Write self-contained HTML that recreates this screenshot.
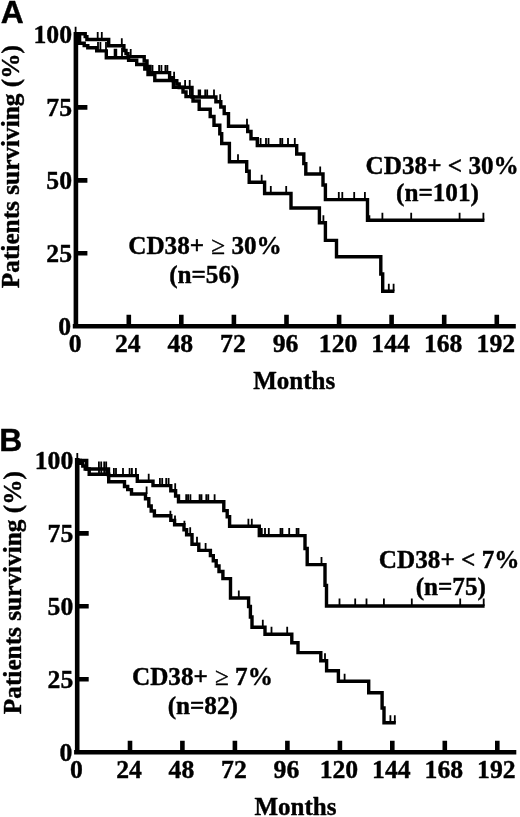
<!DOCTYPE html>
<html><head><meta charset="utf-8"><title>Figure</title>
<style>
html,body{margin:0;padding:0;background:#fff}
svg{display:block}
text{font-family:"Liberation Serif","DejaVu Serif",serif;font-weight:bold;font-size:25.7px;fill:#000;stroke:#000;stroke-width:0.4px;stroke-linejoin:round}
.sans{font-family:"Liberation Sans","DejaVu Sans",sans-serif;font-weight:bold;font-size:31.8px}
.c{fill:none;stroke:#000;stroke-width:3.4;stroke-linejoin:miter;stroke-linecap:butt}
.t{fill:none;stroke:#000;stroke-width:1.8}
.lab{font-size:25.2px}
</style></head><body>
<svg width="520" height="817" viewBox="0 0 520 817">
<rect width="520" height="817" fill="#fff"/>
<text class="sans" x="0.7" y="23.4">A</text>
<text class="sans" x="-0.7" y="451.3">B</text>
<path d="M75.9,32.0V328.6M72.8,326.3H515.8" fill="none" stroke="#000" stroke-width="4.6"/><path d="M128.8,326.3V314.8M181.3,326.3V314.8M233.9,326.3V314.8M286.5,326.3V314.8M339.1,326.3V314.8M391.6,326.3V314.8M444.2,326.3V314.8M496.8,326.3V314.8M75.9,253.3H87.4M75.9,180.4H87.4M75.9,107.4H87.4" fill="none" stroke="#000" stroke-width="4.6"/>
<text x="71.0" y="335.1" text-anchor="end">0</text><text x="72.0" y="261.6" text-anchor="end">25</text><text x="72.0" y="188.7" text-anchor="end">50</text><text x="72.0" y="115.7" text-anchor="end">75</text><text x="72.0" y="42.7" text-anchor="end">100</text><text x="75.2" y="352.0" text-anchor="middle">0</text><text x="127.8" y="352.0" text-anchor="middle">24</text><text x="180.3" y="352.0" text-anchor="middle">48</text><text x="232.9" y="352.0" text-anchor="middle">72</text><text x="285.5" y="352.0" text-anchor="middle">96</text><text x="338.1" y="352.0" text-anchor="middle">120</text><text x="390.6" y="352.0" text-anchor="middle">144</text><text x="443.2" y="352.0" text-anchor="middle">168</text><text x="495.8" y="352.0" text-anchor="middle">192</text><text x="294.2" y="389.2" text-anchor="middle" style="font-size:25px">Months</text><text transform="translate(19.4,166.6) rotate(-90)" text-anchor="middle" style="font-size:25.3px">Patients surviving (%)</text>
<path d="M77.2,458.0V754.6M74.1,752.3H516.3" fill="none" stroke="#000" stroke-width="4.6"/><path d="M130.0,752.3V740.8M182.4,752.3V740.8M234.9,752.3V740.8M287.4,752.3V740.8M339.9,752.3V740.8M392.3,752.3V740.8M444.8,752.3V740.8M497.3,752.3V740.8M77.2,679.3H88.7M77.2,606.3H88.7M77.2,533.4H88.7" fill="none" stroke="#000" stroke-width="4.6"/>
<text x="72.3" y="761.1" text-anchor="end">0</text><text x="73.3" y="687.6" text-anchor="end">25</text><text x="73.3" y="614.6" text-anchor="end">50</text><text x="73.3" y="541.7" text-anchor="end">75</text><text x="73.3" y="468.7" text-anchor="end">100</text><text x="76.5" y="778.0" text-anchor="middle">0</text><text x="129.0" y="778.0" text-anchor="middle">24</text><text x="181.4" y="778.0" text-anchor="middle">48</text><text x="233.9" y="778.0" text-anchor="middle">72</text><text x="286.4" y="778.0" text-anchor="middle">96</text><text x="338.9" y="778.0" text-anchor="middle">120</text><text x="391.3" y="778.0" text-anchor="middle">144</text><text x="443.8" y="778.0" text-anchor="middle">168</text><text x="496.3" y="778.0" text-anchor="middle">192</text><text x="295.5" y="815.2" text-anchor="middle" style="font-size:25px">Months</text><text transform="translate(20.7,592.6) rotate(-90)" text-anchor="middle" style="font-size:25.3px">Patients surviving (%)</text>
<path class="c" d="M76.0,33.7H85.2V36.6H86.9V39.5H108.7V45.7H123.9V50.5H126.0V53.6H128.0V56.6H144.2V61.0H147.0V66.5H150.0V72.6H169.6V77.6H173.4V80.8H176.8V84.0H179.2V87.5H192.0V97.0H215.9V101.8H220.8V107.0H224.2V113.6H228.5V126.2H247.7V131.5H251.0V138.7H257.3V145.6H296.7V154.0H303.8V163.6H305.8V174.0H323.0V185.0H325.4V199.6H367.5V220.3H484.4"/>
<path class="c" d="M76.0,33.7H77.8V36.6H79.6V43.2H84.2V45.6H87.8V47.8H96.7V50.9H106.3V57.7H128.6V60.3H136.7V64.5H144.8V69.0H148.0V74.5H154.8V80.5H173.4V87.3H183.0V92.0H186.0V96.6H193.0V101.0H199.2V109.2H210.2V116.5H214.0V125.2H219.8V133.8H221.7V143.5H229.4V161.7H246.7V171.3H249.2V182.3H264.6V193.5H291.0V208.0H319.4V222.8H325.4V240.4H336.5V256.7H380.8V274.0H382.7V291.3H394.4"/>
<path class="c" d="M77.3,460.4H86.7V469.0H108.5V475.6H137.3V481.2H153.0V485.6H170.8V490.8H175.6V496.0H178.5V501.7H223.8V510.6H227.2V516.8H229.6V526.2H259.3V535.6H305.0V548.5H307.2V564.6H325.0V585.4H326.5V606.0H484.6"/>
<path class="c" d="M77.3,460.4H80.4V463.2H82.8V466.0H85.2V469.0H89.2V474.2H108.7V481.7H124.5V486.5H127.7V489.6H131.5V494.0H145.5V498.8H148.8V506.0H151.2V511.0H154.4V515.8H170.8V520.4H174.6V524.8H184.0V529.8H186.6V534.8H192.0V544.2H198.8V550.4H210.4V555.6H213.3V560.8H216.2V566.0H219.0V571.5H222.9V578.6H230.5V598.0H248.6V606.5H250.4V617.0H252.0V627.3H265.0V634.2H291.8V642.8H298.0V652.6H320.8V660.8H326.6V670.8H338.4V681.2H368.7V692.8H382.1V708.0H384.0V722.8H395.8"/>
<path class="t" d="M75.6,33.7v-7.0M97.7,39.5v-7.5M101.8,39.5v-7.5M121.8,45.7v-7.5M130.7,56.6v-7.5M152.5,72.6v-7.5M159.1,72.6v-7.5M161.4,72.6v-7.5M165.4,72.6v-7.5M167.4,72.6v-7.5M174.1,80.8v-9.0M185.1,87.5v-7.5M189.7,87.5v-7.5M198.6,97.0v-7.5M200.2,97.0v-7.5M205.2,97.0v-7.5M207.2,97.0v-7.5M214.0,97.0v-7.5M220.2,101.8v-7.5M247.0,126.2v-7.5M260.6,145.6v-7.5M266.0,145.6v-7.5M268.5,145.6v-7.5M280.3,145.6v-7.5M282.3,145.6v-7.5M288.0,145.6v-7.5M294.8,145.6v-7.5M320.2,174.0v-7.5M338.8,199.6v-7.5M342.3,199.6v-7.5M354.2,199.6v-7.5M364.9,199.6v-7.5M369.4,220.3v-5.0M382.4,220.3v-7.5M411.2,220.3v-7.5M459.6,220.3v-7.5M483.4,220.3v-7.5"/>
<path class="t" d="M98.0,50.9v-9.0M100.4,50.9v-9.0M106.0,50.9v-9.0M114.6,57.7v-9.0M116.3,57.7v-9.0M122.0,57.7v-10.0M189.9,96.6v-8.0M238.0,161.7v-7.5M261.7,182.3v-7.5M270.8,193.5v-7.5M286.2,193.5v-7.5M323.4,222.8v-7.5M388.8,291.3v-7.5M393.6,291.3v-7.5"/>
<path class="t" d="M77.3,460.4v-7.5M98.9,469.0v-7.5M101.2,469.0v-7.5M104.2,469.0v-7.5M106.2,469.0v-7.5M113.9,475.6v-7.5M116.0,475.6v-7.5M123.0,475.6v-7.5M129.6,475.6v-7.5M131.9,475.6v-7.5M135.9,475.6v-7.5M148.7,481.2v-7.5M159.9,485.6v-7.5M162.2,485.6v-7.5M166.2,485.6v-7.5M168.6,485.6v-7.5M175.2,490.8v-7.5M186.2,501.7v-7.5M188.1,501.7v-7.5M190.4,501.7v-7.5M199.6,501.7v-7.5M201.5,501.7v-7.5M206.3,501.7v-7.5M208.3,501.7v-7.5M214.6,501.7v-7.5M248.4,526.2v-7.5M251.8,526.2v-7.5M261.8,535.6v-7.5M265.0,535.6v-7.5M268.8,535.6v-7.5M280.5,535.6v-7.5M282.4,535.6v-7.5M289.2,535.6v-7.5M296.6,535.6v-7.5M298.5,535.6v-7.5M321.5,564.6v-7.5M339.5,606.0v-7.5M355.2,606.0v-7.5M366.5,606.0v-7.5M383.9,606.0v-7.5M411.8,606.0v-7.5M460.2,606.0v-7.5M483.7,606.0v-7.5"/>
<path class="t" d="M99.0,474.2v-5.0M101.3,474.2v-5.0M104.2,474.2v-5.0M106.2,474.2v-5.0M146.6,494.0v-7.5M170.4,515.8v-5.0M175.0,520.4v-5.0M184.4,524.8v-4.0M190.2,534.8v-7.5M197.0,544.2v-7.5M205.6,550.4v-7.5M238.8,598.0v-7.5M262.8,627.3v-7.5M271.5,634.2v-7.5M287.2,634.2v-7.5M325.0,660.8v-7.5M344.6,681.2v-7.5M390.4,722.8v-7.5M394.8,722.8v-7.5"/>
<text class="lab" x="442.2" y="173.8" text-anchor="middle">CD38+ &lt; 30%</text>
<text class="lab" x="437.5" y="200.7" text-anchor="middle">(n=101)</text>
<text class="lab" x="205" y="254.3" text-anchor="middle">CD38+ <tspan font-weight="normal" dx="0.8">≥</tspan> 30%</text>
<text class="lab" x="204.3" y="282.9" text-anchor="middle">(n=56)</text>
<text class="lab" x="449.2" y="568" text-anchor="middle">CD38+ &lt; 7%</text>
<text class="lab" x="450.8" y="595.3" text-anchor="middle">(n=75)</text>
<text class="lab" x="202.4" y="685.4" text-anchor="middle">CD38+ <tspan font-weight="normal" dx="0.8">≥</tspan> 7%</text>
<text class="lab" x="202.8" y="713.8" text-anchor="middle">(n=82)</text>
</svg></body></html>
